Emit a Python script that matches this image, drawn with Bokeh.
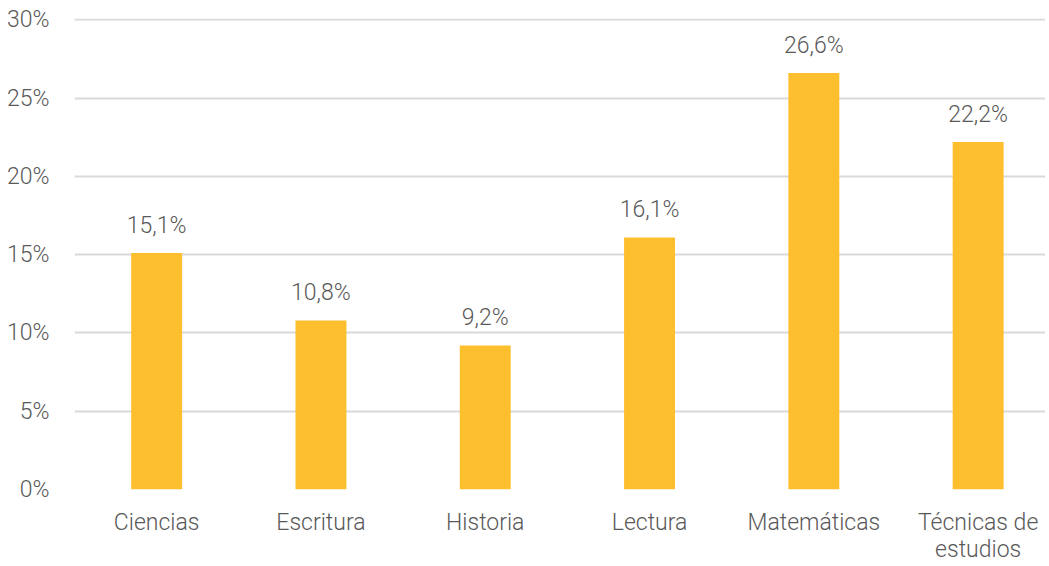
from bokeh.plotting import figure
from bokeh.models import ColumnDataSource, FixedTicker, PrintfTickFormatter, Range1d
from bokeh.core.properties import value
from bokeh.embed import file_html
from bokeh.resources import INLINE

categories = ["Ciencias", "Escritura", "Historia", "Lectura", "Matemáticas", "Técnicas de\nestudios"]
values = [15.1, 10.8, 9.2, 16.1, 26.6, 22.2]
y_ticks = [0, 5, 10, 15, 20, 25, 30]

pos = list(range(len(categories)))
labels = [f"{v:.1f}".replace(".", ",") + "%" for v in values]
src = ColumnDataSource(dict(x=pos, val=values, lab=labels))

FONT = "Roboto Light"
TXT = "#595959"
FS = "23px"

p = figure(x_range=Range1d(-0.5, 5.41), y_range=Range1d(0, 30.08),
           width=1045, height=565, output_backend="svg", toolbar_location=None,
           min_border_left=74, min_border_right=0, min_border_top=18, min_border_bottom=60)
p.outline_line_color = None
p.background_fill_color = "white"

p.vbar(x="x", top="val", width=0.31, source=src, color="#FDBF2D", line_color=None)
p.text(x="x", y="val", text="lab", source=src, text_align="center", text_baseline="bottom",
       y_offset=-14, text_font_size=FS, text_color=TXT, text_font=value(FONT))

p.xaxis.ticker = FixedTicker(ticks=pos)
p.xaxis.major_label_overrides = {i: c for i, c in zip(pos, categories)}
p.yaxis.ticker = FixedTicker(ticks=y_ticks)
p.yaxis.formatter = PrintfTickFormatter(format="%d%%")
for ax in (p.xaxis, p.yaxis):
    ax.axis_line_color = None
    ax.major_tick_line_color = None
    ax.minor_tick_line_color = None
    ax.major_tick_out = 0
    ax.minor_tick_out = 0
    ax.axis_label_standoff = 0
    ax.major_label_text_font = FONT
    ax.major_label_text_font_size = FS
    ax.major_label_text_color = TXT
p.yaxis.major_label_standoff = 25
p.xaxis.major_label_standoff = 19
p.xaxis.major_label_text_line_height = 1.0

p.xgrid.grid_line_color = None
p.ygrid.grid_line_color = "#d9d9d9"
p.ygrid.grid_line_width = 2

open("out.html", "w").write(file_html(p, INLINE))
